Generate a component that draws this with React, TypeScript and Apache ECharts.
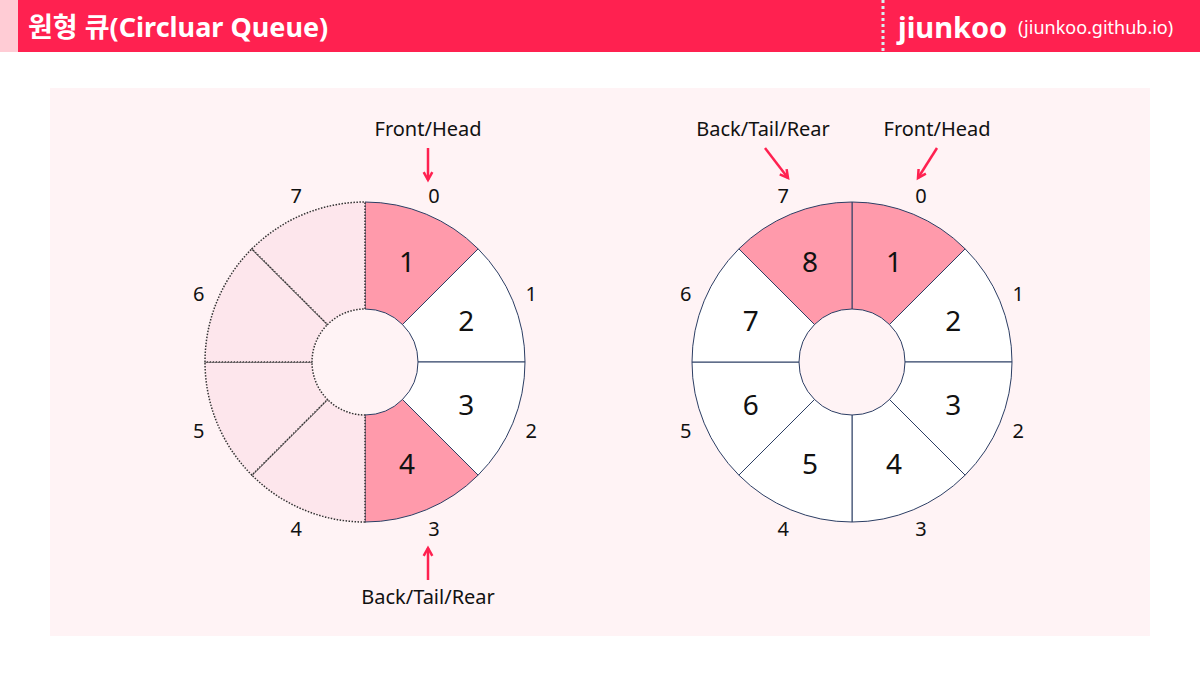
import { useRef, useEffect } from "react";
import * as echarts from "echarts";

const slotIndex = ["0", "1", "2", "3", "4", "5", "6", "7"];
const leftValues = ["1", "2", "3", "4", "", "", "", ""];
const rightValues = ["1", "2", "3", "4", "5", "6", "7", "8"];
const leftPink = [0, 3];
const rightPink = [0, 7];

const RED = "#ff2150";
const PINK = "#ff9aab";
const NAVY = "#2c3e64";
const FONT = "'Noto Sans', 'Noto Sans CJK KR', sans-serif";

const ringSeries = (cx: number, values: string[], pink: number[], dotted: boolean) => [
  {
    type: "pie",
    center: [cx, 362],
    radius: [53, 160],
    startAngle: 90,
    silent: true,
    label: {
      position: "inside",
      formatter: (p: any) => values[p.dataIndex],
      fontSize: 28,
      color: "#111",
      fontFamily: FONT,
    },
    labelLine: { show: false },
    data: values.map((v, i) => {
      const empty = dotted && v === "";
      return {
        value: 1,
        name: "s" + i,
        itemStyle: {
          color: pink.includes(i) ? PINK : empty ? "#fde6ec" : "#ffffff",
          borderColor: empty ? "#333" : NAVY,
          borderWidth: empty ? 1.5 : 1,
          borderType: empty ? "dotted" : "solid",
        },
      };
    }),
  },
  {
    type: "pie",
    center: [cx, 362],
    radius: [168, 186],
    startAngle: 90,
    silent: true,
    label: {
      position: "inside",
      formatter: (p: any) => slotIndex[p.dataIndex],
      fontSize: 20,
      color: "#111",
      fontFamily: FONT,
    },
    labelLine: { show: false },
    itemStyle: { color: "transparent" },
    data: slotIndex.map((n) => ({ value: 1, name: "i" + n })),
  },
];

const arrow = (x1: number, y1: number, x2: number, y2: number) => {
  const a = Math.atan2(y2 - y1, x2 - x1);
  const h = 9;
  const p1 = [x2 - h * Math.cos(a - 0.5), y2 - h * Math.sin(a - 0.5)];
  const p2 = [x2 - h * Math.cos(a + 0.5), y2 - h * Math.sin(a + 0.5)];
  const st = { stroke: RED, lineWidth: 2.5, fill: "none" };
  return [
    { type: "line", shape: { x1, y1, x2, y2 }, style: st },
    { type: "polyline", shape: { points: [p1, [x2, y2], p2] }, style: st },
  ];
};

const label = (x: number, y: number, text: string) => ({
  type: "text",
  x,
  y,
  style: { text, fill: "#111", font: `20px ${FONT}`, align: "center", verticalAlign: "middle" },
});

const App = () => {
  const ref = useRef<HTMLDivElement>(null);
  useEffect(() => {
    if (!ref.current) return;
    const chart = echarts.init(ref.current, null, { renderer: "svg" });
    chart.setOption({
      animation: false,
      graphic: [
        { type: "rect", z: -10, shape: { x: 0, y: 0, width: 1200, height: 52 }, style: { fill: RED } },
        { type: "rect", z: -9, shape: { x: 0, y: 0, width: 18, height: 52 }, style: { fill: "#ffccd5" } },
        { type: "rect", z: -10, shape: { x: 50, y: 88, width: 1100, height: 548 }, style: { fill: "#fff3f5" } },
        {
          type: "line",
          shape: { x1: 883, y1: 0, x2: 883, y2: 52 },
          style: { stroke: "#d8f0f0", lineWidth: 3, lineDash: [3, 3] },
        },
        {
          type: "text",
          x: 28,
          y: 26,
          style: { text: "원형 큐(Circluar Queue)", fill: "#fff", font: `bold 27px ${FONT}`, verticalAlign: "middle" },
        },
        {
          type: "text",
          x: 898,
          y: 26,
          style: { text: "jiunkoo", fill: "#fff", font: `bold 29px ${FONT}`, verticalAlign: "middle" },
        },
        {
          type: "text",
          x: 1018,
          y: 27,
          style: { text: "(jiunkoo.github.io)", fill: "#fff", font: `18px ${FONT}`, verticalAlign: "middle" },
        },
        label(428, 128, "Front/Head"),
        label(428, 596, "Back/Tail/Rear"),
        label(763, 128, "Back/Tail/Rear"),
        label(937, 128, "Front/Head"),
        ...arrow(428, 148, 428, 180),
        ...arrow(428, 580, 428, 548),
        ...arrow(765, 148, 788, 178),
        ...arrow(937, 148, 918, 178),
      ],
      series: [
        ...ringSeries(365, leftValues, leftPink, true),
        ...ringSeries(852, rightValues, rightPink, false),
      ],
    });
    return () => chart.dispose();
  }, []);
  return (
    <div
      ref={ref}
      style={{ position: "absolute", left: 0, top: 0, width: 1200, height: 675, background: "#fff" }}
    />
  );
};

export default App;
